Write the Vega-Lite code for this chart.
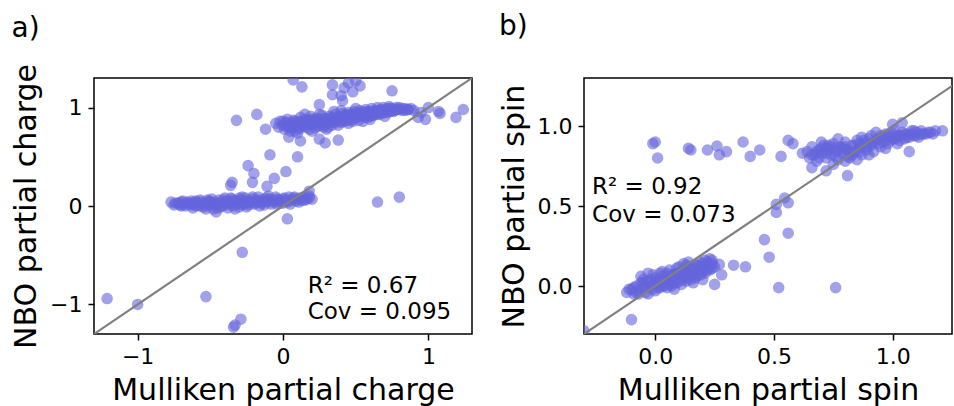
{
  "$schema": "https://vega.github.io/schema/vega-lite/v6.json",
  "padding": {"left": 10, "top": 12, "right": 1, "bottom": 0},
  "bounds": "flush",
  "spacing": 112,
  "config": {
    "font": "DejaVu Sans",
    "view": {"stroke": "black", "strokeWidth": 1.5},
    "axis": {"grid": false, "domain": false, "ticks": true, "tickColor": "black", "tickWidth": 1.5, "tickSize": 6, "labelFontSize": 22, "labelColor": "black", "labelPadding": 6, "titleFontSize": 30, "titleFontWeight": "normal", "titleColor": "black", "titlePadding": 8},
    "title": {"fontSize": 28, "fontWeight": "normal", "anchor": "start", "frame": "bounds", "color": "black"}
  },
  "datasets": {
    "charge": [
      {"m": -0.75, "n": 0.01}, {"m": -0.72, "n": 0.03}, {"m": -0.7, "n": 0.0}, {"m": -0.68, "n": 0.02}, {"m": -0.66, "n": 0.04}, {"m": -0.64, "n": 0.01}, {"m": -0.62, "n": 0.03}, {"m": -0.6, "n": 0.0}, {"m": -0.6, "n": 0.05}, {"m": -0.58, "n": 0.02}, {"m": -0.56, "n": 0.04}, {"m": -0.55, "n": -0.01}, {"m": -0.53, "n": 0.03}, {"m": -0.51, "n": 0.05}, {"m": -0.5, "n": 0.01}, {"m": -0.48, "n": -0.03}, {"m": -0.47, "n": 0.04}, {"m": -0.45, "n": 0.02}, {"m": -0.44, "n": 0.06}, {"m": -0.42, "n": 0.0}, {"m": -0.41, "n": 0.03}, {"m": -0.39, "n": 0.05}, {"m": -0.38, "n": -0.02}, {"m": -0.36, "n": 0.04}, {"m": -0.35, "n": 0.07}, {"m": -0.33, "n": 0.02}, {"m": -0.32, "n": 0.05}, {"m": -0.3, "n": -0.01}, {"m": -0.29, "n": 0.06}, {"m": -0.27, "n": 0.03}, {"m": -0.26, "n": 0.08}, {"m": -0.24, "n": 0.01}, {"m": -0.23, "n": 0.05}, {"m": -0.21, "n": 0.07}, {"m": -0.2, "n": 0.02}, {"m": -0.18, "n": 0.05}, {"m": -0.17, "n": 0.09}, {"m": -0.15, "n": 0.03}, {"m": -0.14, "n": 0.06}, {"m": -0.12, "n": 0.08}, {"m": -0.11, "n": 0.04}, {"m": -0.09, "n": 0.07}, {"m": -0.08, "n": 0.02}, {"m": -0.06, "n": 0.05}, {"m": -0.05, "n": 0.09}, {"m": -0.03, "n": 0.06}, {"m": -0.02, "n": 0.03}, {"m": 0.0, "n": 0.07}, {"m": 0.02, "n": 0.05}, {"m": 0.04, "n": 0.09}, {"m": 0.05, "n": 0.02}, {"m": 0.07, "n": 0.08}, {"m": 0.09, "n": 0.05}, {"m": 0.12, "n": 0.08}, {"m": 0.15, "n": 0.06}, {"m": 0.18, "n": 0.1}, {"m": 0.2, "n": 0.07}, {"m": -0.46, "n": -0.06}, {"m": -0.62, "n": -0.02}, {"m": -0.4, "n": 0.08}, {"m": -0.28, "n": 0.09}, {"m": -0.52, "n": 0.06}, {"m": -0.34, "n": 0.0}, {"m": -0.16, "n": 0.0}, {"m": -0.7, "n": 0.04}, {"m": -0.57, "n": 0.0},
      {"m": -0.74, "n": 0.03}, {"m": -0.71, "n": 0.01}, {"m": -0.69, "n": 0.05}, {"m": -0.67, "n": 0.0}, {"m": -0.65, "n": 0.03}, {"m": -0.63, "n": 0.05}, {"m": -0.61, "n": 0.01}, {"m": -0.59, "n": 0.04}, {"m": -0.57, "n": 0.06}, {"m": -0.54, "n": 0.02}, {"m": -0.52, "n": 0.0}, {"m": -0.5, "n": 0.04}, {"m": -0.49, "n": 0.07}, {"m": -0.46, "n": 0.01}, {"m": -0.44, "n": 0.03}, {"m": -0.43, "n": -0.01}, {"m": -0.41, "n": 0.06}, {"m": -0.39, "n": 0.01}, {"m": -0.37, "n": 0.03}, {"m": -0.36, "n": 0.08}, {"m": -0.34, "n": 0.05}, {"m": -0.31, "n": 0.03}, {"m": -0.3, "n": 0.08}, {"m": -0.28, "n": 0.01}, {"m": -0.26, "n": 0.05}, {"m": -0.25, "n": 0.03}, {"m": -0.22, "n": 0.04}, {"m": -0.21, "n": 0.09}, {"m": -0.19, "n": 0.03}, {"m": -0.17, "n": 0.06}, {"m": -0.16, "n": 0.04}, {"m": -0.13, "n": 0.05}, {"m": -0.1, "n": 0.06}, {"m": -0.1, "n": 0.1}, {"m": -0.07, "n": 0.04}, {"m": -0.04, "n": 0.07}, {"m": -0.01, "n": 0.05}, {"m": 0.01, "n": 0.08}, {"m": 0.03, "n": 0.04}, {"m": 0.06, "n": 0.06}, {"m": 0.08, "n": 0.09}, {"m": 0.1, "n": 0.07}, {"m": 0.11, "n": 0.04}, {"m": 0.14, "n": 0.09}, {"m": 0.16, "n": 0.07}, {"m": -0.53, "n": -0.03}, {"m": -0.45, "n": -0.02}, {"m": -0.33, "n": -0.03}, {"m": -0.25, "n": -0.01}, {"m": -0.13, "n": 0.01}, {"m": -0.04, "n": 0.02}, {"m": 0.0, "n": 0.03},
      {"m": -0.05, "n": 0.84}, {"m": -0.03, "n": 0.8}, {"m": -0.02, "n": 0.86}, {"m": 0.0, "n": 0.82}, {"m": 0.01, "n": 0.78}, {"m": 0.02, "n": 0.85}, {"m": 0.03, "n": 0.88}, {"m": 0.04, "n": 0.81}, {"m": 0.05, "n": 0.76}, {"m": 0.06, "n": 0.84}, {"m": 0.07, "n": 0.87}, {"m": 0.08, "n": 0.8}, {"m": 0.09, "n": 0.83}, {"m": 0.1, "n": 0.86}, {"m": 0.11, "n": 0.78}, {"m": 0.12, "n": 0.9}, {"m": 0.13, "n": 0.82}, {"m": 0.14, "n": 0.85}, {"m": 0.15, "n": 0.88}, {"m": 0.16, "n": 0.8}, {"m": 0.17, "n": 0.84}, {"m": 0.18, "n": 0.87}, {"m": 0.19, "n": 0.91}, {"m": 0.2, "n": 0.83}, {"m": 0.21, "n": 0.86}, {"m": 0.22, "n": 0.79}, {"m": 0.23, "n": 0.89}, {"m": 0.24, "n": 0.85}, {"m": 0.25, "n": 0.88}, {"m": 0.26, "n": 0.82}, {"m": 0.27, "n": 0.92}, {"m": 0.28, "n": 0.86}, {"m": 0.29, "n": 0.89}, {"m": 0.3, "n": 0.84}, {"m": 0.31, "n": 0.8}, {"m": 0.32, "n": 0.91}, {"m": 0.33, "n": 0.87}, {"m": 0.34, "n": 0.9}, {"m": 0.35, "n": 0.85}, {"m": 0.36, "n": 0.93}, {"m": 0.37, "n": 0.88}, {"m": 0.38, "n": 0.82}, {"m": 0.39, "n": 0.91}, {"m": 0.4, "n": 0.89}, {"m": 0.41, "n": 0.94}, {"m": 0.42, "n": 0.86}, {"m": 0.43, "n": 0.92}, {"m": 0.44, "n": 0.9}, {"m": 0.45, "n": 0.95}, {"m": 0.46, "n": 0.88}, {"m": 0.47, "n": 0.93}, {"m": 0.48, "n": 0.91}, {"m": 0.49, "n": 0.96}, {"m": 0.5, "n": 0.9}, {"m": 0.51, "n": 0.94}, {"m": 0.52, "n": 0.87}, {"m": 0.53, "n": 0.97}, {"m": 0.54, "n": 0.92}, {"m": 0.55, "n": 0.95}, {"m": 0.56, "n": 0.9}, {"m": 0.57, "n": 0.98}, {"m": 0.58, "n": 0.93}, {"m": 0.59, "n": 0.96}, {"m": 0.6, "n": 0.94}, {"m": 0.61, "n": 0.99}, {"m": 0.62, "n": 0.92}, {"m": 0.63, "n": 0.97}, {"m": 0.64, "n": 0.95}, {"m": 0.65, "n": 1.0}, {"m": 0.66, "n": 0.93}, {"m": 0.67, "n": 0.98}, {"m": 0.68, "n": 0.96}, {"m": 0.69, "n": 1.0}, {"m": 0.7, "n": 0.95}, {"m": 0.71, "n": 0.98}, {"m": 0.72, "n": 0.97}, {"m": 0.73, "n": 1.01}, {"m": 0.74, "n": 0.96}, {"m": 0.75, "n": 0.99}, {"m": 0.77, "n": 0.97}, {"m": 0.78, "n": 1.0}, {"m": 0.8, "n": 0.98}, {"m": 0.82, "n": 0.99}, {"m": 0.84, "n": 0.97}, {"m": 0.86, "n": 0.98}, {"m": 0.3, "n": 0.78}, {"m": 0.45, "n": 0.84}, {"m": 0.55, "n": 0.86}, {"m": 0.2, "n": 0.76}, {"m": 0.6, "n": 0.88}, {"m": 0.7, "n": 0.91}, {"m": 0.1, "n": 0.74}, {"m": 0.25, "n": 0.93}, {"m": 0.15, "n": 0.93}, {"m": 0.35, "n": 0.96}, {"m": 0.5, "n": 0.99}, {"m": 0.4, "n": 0.97},
      {"m": 0.0, "n": 0.86}, {"m": 0.02, "n": 0.81}, {"m": 0.04, "n": 0.84}, {"m": 0.06, "n": 0.8}, {"m": 0.08, "n": 0.86}, {"m": 0.1, "n": 0.82}, {"m": 0.12, "n": 0.85}, {"m": 0.14, "n": 0.81}, {"m": 0.16, "n": 0.87}, {"m": 0.18, "n": 0.83}, {"m": 0.2, "n": 0.88}, {"m": 0.22, "n": 0.84}, {"m": 0.24, "n": 0.81}, {"m": 0.26, "n": 0.87}, {"m": 0.28, "n": 0.83}, {"m": 0.3, "n": 0.88}, {"m": 0.32, "n": 0.85}, {"m": 0.34, "n": 0.82}, {"m": 0.36, "n": 0.88}, {"m": 0.38, "n": 0.9}, {"m": 0.4, "n": 0.85}, {"m": 0.42, "n": 0.91}, {"m": 0.44, "n": 0.87}, {"m": 0.46, "n": 0.93}, {"m": 0.48, "n": 0.88}, {"m": 0.5, "n": 0.94}, {"m": 0.52, "n": 0.91}, {"m": 0.54, "n": 0.95}, {"m": 0.56, "n": 0.93}, {"m": 0.58, "n": 0.96}, {"m": 0.6, "n": 0.91}, {"m": 0.62, "n": 0.96}, {"m": 0.64, "n": 0.93}, {"m": 0.66, "n": 0.97}, {"m": 0.68, "n": 0.94}, {"m": 0.7, "n": 0.98}, {"m": 0.72, "n": 0.95}, {"m": 0.74, "n": 0.99}, {"m": 0.76, "n": 0.96}, {"m": 0.78, "n": 0.98}, {"m": 0.8, "n": 1.0}, {"m": 0.82, "n": 0.97}, {"m": 0.84, "n": 0.99}, {"m": 0.88, "n": 0.99}, {"m": 0.9, "n": 0.97}, {"m": 0.12, "n": 0.8}, {"m": 0.22, "n": 0.87}, {"m": 0.32, "n": 0.88}, {"m": 0.42, "n": 0.89}, {"m": 0.52, "n": 0.93}, {"m": 0.62, "n": 0.95}, {"m": 0.72, "n": 0.99}, {"m": 0.05, "n": 0.8}, {"m": 0.15, "n": 0.83}, {"m": 0.25, "n": 0.85}, {"m": 0.35, "n": 0.87}, {"m": 0.45, "n": 0.91}, {"m": 0.55, "n": 0.92}, {"m": 0.65, "n": 0.96}, {"m": 0.75, "n": 0.97}, {"m": 0.08, "n": 0.76}, {"m": 0.18, "n": 0.78}, {"m": 0.28, "n": 0.8}, {"m": 0.38, "n": 0.86}, {"m": 0.48, "n": 0.86}, {"m": 0.58, "n": 0.9},
      {"m": 0.07, "n": 1.28}, {"m": 0.13, "n": 1.21}, {"m": 0.34, "n": 1.23}, {"m": 0.34, "n": 1.13}, {"m": 0.42, "n": 1.2}, {"m": 0.45, "n": 1.25}, {"m": 0.5, "n": 1.27}, {"m": 0.53, "n": 1.22}, {"m": 0.48, "n": 1.16}, {"m": 0.4, "n": 1.12}, {"m": 0.75, "n": 1.17}, {"m": 0.41, "n": 1.07}, {"m": 0.25, "n": 1.03}, {"m": -0.18, "n": 0.93}, {"m": -0.32, "n": 0.87}, {"m": -0.12, "n": 0.78}, {"m": 0.04, "n": 0.7}, {"m": 0.12, "n": 0.66}, {"m": 0.25, "n": 0.68}, {"m": 0.29, "n": 0.64}, {"m": 0.38, "n": 0.67}, {"m": -0.09, "n": 0.52}, {"m": 0.1, "n": 0.5}, {"m": -0.24, "n": 0.41}, {"m": -0.2, "n": 0.33}, {"m": 0.02, "n": 0.35}, {"m": -0.06, "n": 0.28}, {"m": -0.35, "n": 0.24}, {"m": -0.36, "n": 0.21}, {"m": -0.21, "n": 0.24}, {"m": -0.11, "n": 0.2}, {"m": 0.18, "n": 0.15}, {"m": -0.77, "n": 0.04}, {"m": 0.03, "n": -0.13}, {"m": 0.18, "n": 0.08}, {"m": 0.13, "n": 0.06}, {"m": 0.65, "n": 0.04}, {"m": 0.8, "n": 0.09}, {"m": -0.28, "n": -0.47}, {"m": -0.53, "n": -0.92}, {"m": -1.21, "n": -0.94}, {"m": -1.0, "n": -1.0}, {"m": -0.29, "n": -1.15}, {"m": -0.34, "n": -1.23}, {"m": -0.33, "n": -1.21}, {"m": 1.24, "n": 0.98}, {"m": 1.19, "n": 0.9}, {"m": 1.07, "n": 0.96}, {"m": 0.98, "n": 0.88}, {"m": 1.0, "n": 1.0}, {"m": 0.93, "n": 0.9}, {"m": 0.86, "n": 0.98}, {"m": 1.08, "n": 0.94}, {"m": 0.95, "n": 0.95}
    ],
    "spin": [
      {"m": -0.12, "n": -0.04}, {"m": -0.1, "n": -0.02}, {"m": -0.09, "n": -0.05}, {"m": -0.08, "n": 0.0}, {"m": -0.07, "n": -0.03}, {"m": -0.06, "n": 0.02}, {"m": -0.05, "n": -0.01}, {"m": -0.04, "n": -0.04}, {"m": -0.03, "n": 0.03}, {"m": -0.02, "n": 0.0}, {"m": -0.01, "n": -0.02}, {"m": 0.0, "n": 0.02}, {"m": 0.0, "n": 0.05}, {"m": 0.01, "n": -0.01}, {"m": 0.02, "n": 0.03}, {"m": 0.03, "n": 0.0}, {"m": 0.03, "n": 0.06}, {"m": 0.04, "n": 0.02}, {"m": 0.05, "n": -0.01}, {"m": 0.05, "n": 0.05}, {"m": 0.06, "n": 0.03}, {"m": 0.07, "n": 0.07}, {"m": 0.07, "n": 0.0}, {"m": 0.08, "n": 0.04}, {"m": 0.09, "n": 0.02}, {"m": 0.09, "n": 0.08}, {"m": 0.1, "n": 0.05}, {"m": 0.11, "n": 0.01}, {"m": 0.11, "n": 0.09}, {"m": 0.12, "n": 0.06}, {"m": 0.13, "n": 0.03}, {"m": 0.13, "n": 0.1}, {"m": 0.14, "n": 0.07}, {"m": 0.15, "n": 0.04}, {"m": 0.15, "n": 0.12}, {"m": 0.16, "n": 0.08}, {"m": 0.17, "n": 0.05}, {"m": 0.17, "n": 0.13}, {"m": 0.18, "n": 0.1}, {"m": 0.19, "n": 0.07}, {"m": 0.19, "n": 0.15}, {"m": 0.2, "n": 0.11}, {"m": 0.21, "n": 0.08}, {"m": 0.21, "n": 0.16}, {"m": 0.22, "n": 0.13}, {"m": 0.23, "n": 0.1}, {"m": 0.23, "n": 0.17}, {"m": 0.24, "n": 0.14}, {"m": 0.25, "n": 0.12}, {"m": -0.06, "n": 0.06}, {"m": 0.02, "n": 0.08}, {"m": -0.03, "n": -0.05}, {"m": 0.08, "n": -0.02}, {"m": 0.16, "n": 0.02}, {"m": 0.1, "n": 0.12}, {"m": 0.2, "n": 0.04}, {"m": 0.12, "n": 0.14}, {"m": -0.01, "n": 0.07}, {"m": 0.06, "n": 0.1}, {"m": 0.14, "n": 0.15},
      {"m": -0.11, "n": -0.02}, {"m": -0.09, "n": -0.01}, {"m": -0.07, "n": -0.05}, {"m": -0.05, "n": 0.02}, {"m": -0.04, "n": -0.01}, {"m": -0.02, "n": 0.04}, {"m": -0.01, "n": 0.01}, {"m": 0.01, "n": 0.03}, {"m": 0.02, "n": -0.01}, {"m": 0.04, "n": 0.05}, {"m": 0.04, "n": 0.0}, {"m": 0.06, "n": 0.06}, {"m": 0.06, "n": 0.01}, {"m": 0.08, "n": 0.07}, {"m": 0.08, "n": 0.02}, {"m": 0.1, "n": 0.08}, {"m": 0.1, "n": 0.03}, {"m": 0.12, "n": 0.09}, {"m": 0.12, "n": 0.04}, {"m": 0.14, "n": 0.11}, {"m": 0.14, "n": 0.05}, {"m": 0.16, "n": 0.11}, {"m": 0.16, "n": 0.06}, {"m": 0.18, "n": 0.13}, {"m": 0.18, "n": 0.07}, {"m": 0.2, "n": 0.14}, {"m": 0.2, "n": 0.09}, {"m": 0.22, "n": 0.15}, {"m": 0.22, "n": 0.1}, {"m": 0.24, "n": 0.16}, {"m": 0.24, "n": 0.11}, {"m": 0.0, "n": -0.03}, {"m": -0.08, "n": -0.04}, {"m": 0.05, "n": 0.08}, {"m": 0.13, "n": 0.13}, {"m": 0.19, "n": 0.11}, {"m": 0.23, "n": 0.13}, {"m": -0.05, "n": 0.04}, {"m": 0.03, "n": 0.09}, {"m": 0.09, "n": 0.11},
      {"m": 0.64, "n": 0.84}, {"m": 0.65, "n": 0.8}, {"m": 0.66, "n": 0.87}, {"m": 0.67, "n": 0.82}, {"m": 0.68, "n": 0.78}, {"m": 0.69, "n": 0.85}, {"m": 0.7, "n": 0.83}, {"m": 0.71, "n": 0.88}, {"m": 0.72, "n": 0.8}, {"m": 0.73, "n": 0.85}, {"m": 0.74, "n": 0.82}, {"m": 0.75, "n": 0.89}, {"m": 0.76, "n": 0.84}, {"m": 0.77, "n": 0.79}, {"m": 0.78, "n": 0.87}, {"m": 0.79, "n": 0.83}, {"m": 0.8, "n": 0.9}, {"m": 0.81, "n": 0.85}, {"m": 0.82, "n": 0.8}, {"m": 0.83, "n": 0.88}, {"m": 0.84, "n": 0.84}, {"m": 0.85, "n": 0.91}, {"m": 0.86, "n": 0.86}, {"m": 0.87, "n": 0.82}, {"m": 0.88, "n": 0.89}, {"m": 0.89, "n": 0.87}, {"m": 0.9, "n": 0.92}, {"m": 0.91, "n": 0.88}, {"m": 0.92, "n": 0.84}, {"m": 0.93, "n": 0.91}, {"m": 0.94, "n": 0.89}, {"m": 0.95, "n": 0.94}, {"m": 0.96, "n": 0.9}, {"m": 0.97, "n": 0.86}, {"m": 0.98, "n": 0.93}, {"m": 0.99, "n": 0.91}, {"m": 1.0, "n": 0.95}, {"m": 1.01, "n": 0.92}, {"m": 1.02, "n": 0.89}, {"m": 1.03, "n": 0.94}, {"m": 1.04, "n": 0.96}, {"m": 1.05, "n": 0.92}, {"m": 1.06, "n": 0.95}, {"m": 1.07, "n": 0.93}, {"m": 1.08, "n": 0.97}, {"m": 1.09, "n": 0.94}, {"m": 1.1, "n": 0.96}, {"m": 1.11, "n": 0.93}, {"m": 1.12, "n": 0.97}, {"m": 1.14, "n": 0.95}, {"m": 1.16, "n": 0.96}, {"m": 1.18, "n": 0.97}, {"m": 1.21, "n": 0.97}, {"m": 1.0, "n": 1.01}, {"m": 1.04, "n": 1.02}, {"m": 1.07, "n": 0.84}, {"m": 1.13, "n": 0.95}, {"m": 0.75, "n": 0.76}, {"m": 0.8, "n": 0.78}, {"m": 0.85, "n": 0.79}, {"m": 0.7, "n": 0.9}, {"m": 0.9, "n": 0.82}, {"m": 0.95, "n": 0.87}, {"m": 0.77, "n": 0.92}, {"m": 0.72, "n": 0.86}, {"m": 0.87, "n": 0.93}, {"m": 0.93, "n": 0.96},
      {"m": 0.66, "n": 0.82}, {"m": 0.68, "n": 0.84}, {"m": 0.7, "n": 0.86}, {"m": 0.72, "n": 0.83}, {"m": 0.74, "n": 0.87}, {"m": 0.76, "n": 0.81}, {"m": 0.78, "n": 0.85}, {"m": 0.8, "n": 0.87}, {"m": 0.82, "n": 0.84}, {"m": 0.84, "n": 0.88}, {"m": 0.86, "n": 0.84}, {"m": 0.88, "n": 0.91}, {"m": 0.9, "n": 0.88}, {"m": 0.92, "n": 0.9}, {"m": 0.94, "n": 0.92}, {"m": 0.96, "n": 0.93}, {"m": 0.98, "n": 0.89}, {"m": 1.0, "n": 0.92}, {"m": 1.02, "n": 0.94}, {"m": 1.03, "n": 0.91}, {"m": 1.05, "n": 0.95}, {"m": 1.06, "n": 0.93}, {"m": 1.08, "n": 0.95}, {"m": 1.1, "n": 0.94}, {"m": 1.12, "n": 0.95}, {"m": 1.15, "n": 0.96}, {"m": 1.17, "n": 0.95}, {"m": 0.69, "n": 0.8}, {"m": 0.73, "n": 0.88}, {"m": 0.79, "n": 0.86}, {"m": 0.83, "n": 0.82}, {"m": 0.89, "n": 0.85}, {"m": 0.91, "n": 0.94}, {"m": 0.97, "n": 0.95}, {"m": 1.01, "n": 0.97}, {"m": 0.86, "n": 0.89}, {"m": 0.81, "n": 0.81}, {"m": 0.76, "n": 0.86}, {"m": 0.99, "n": 0.94}, {"m": 1.09, "n": 0.97},
      {"m": 0.0, "n": 0.9}, {"m": -0.01, "n": 0.89}, {"m": 0.01, "n": 0.8}, {"m": 0.14, "n": 0.86}, {"m": 0.15, "n": 0.85}, {"m": 0.22, "n": 0.85}, {"m": 0.26, "n": 0.875}, {"m": 0.3, "n": 0.84}, {"m": 0.27, "n": 0.82}, {"m": 0.37, "n": 0.9}, {"m": 0.4, "n": 0.81}, {"m": 0.44, "n": 0.85}, {"m": 0.53, "n": 0.81}, {"m": 0.56, "n": 0.91}, {"m": 0.58, "n": 0.89}, {"m": 0.62, "n": 0.83}, {"m": 0.66, "n": 0.74}, {"m": 0.72, "n": 0.72}, {"m": 0.81, "n": 0.69}, {"m": 0.51, "n": 0.51}, {"m": 0.51, "n": 0.46}, {"m": 0.545, "n": 0.55}, {"m": 0.56, "n": 0.52}, {"m": 0.46, "n": 0.29}, {"m": 0.56, "n": 0.33}, {"m": 0.48, "n": 0.18}, {"m": 0.52, "n": -0.01}, {"m": 0.76, "n": -0.01}, {"m": 0.33, "n": 0.13}, {"m": 0.38, "n": 0.12}, {"m": 0.27, "n": 0.135}, {"m": 0.28, "n": 0.07}, {"m": 0.25, "n": 0.01}, {"m": -0.1, "n": -0.21}, {"m": -0.3, "n": -0.28}, {"m": -0.03, "n": 0.08}
    ]
  },
  "hconcat": [
    {
      "width": 378,
      "height": 256,
      "title": {"text": "a)", "offset": 21},
      "layer": [
        {
          "data": {"name": "charge"},
          "mark": {"type": "circle", "size": 135, "color": "#6464dc", "opacity": 0.6, "clip": true},
          "encoding": {
            "x": {"field": "m", "type": "quantitative", "scale": {"domain": [-1.3, 1.3], "nice": false, "zero": false}, "axis": {"values": [-1, 0, 1], "format": "d", "title": "Mulliken partial charge"}},
            "y": {"field": "n", "type": "quantitative", "scale": {"domain": [-1.3, 1.3], "nice": false, "zero": false}, "axis": {"values": [-1, 0, 1], "format": "d", "title": "NBO partial charge"}}
          }
        },
        {
          "data": {"values": [{}]},
          "mark": {"type": "rule", "color": "#808080", "strokeWidth": 2.2, "clip": true},
          "encoding": {
            "x": {"datum": -1.3, "type": "quantitative"},
            "x2": {"datum": 1.3},
            "y": {"datum": -1.3, "type": "quantitative"},
            "y2": {"datum": 1.3}
          }
        },
        {
          "data": {"values": [{}]},
          "mark": {"type": "text", "align": "left", "baseline": "alphabetic", "fontSize": 23, "lineHeight": 26, "color": "black"},
          "encoding": {
            "x": {"datum": 0.17, "type": "quantitative"},
            "y": {"datum": -0.88, "type": "quantitative"},
            "text": {"value": ["R² = 0.67", "Cov = 0.095"]}
          }
        }
      ]
    },
    {
      "width": 368,
      "height": 256,
      "title": {"text": "b)", "offset": 37},
      "layer": [
        {
          "data": {"name": "spin"},
          "mark": {"type": "circle", "size": 135, "color": "#6464dc", "opacity": 0.6, "clip": true},
          "encoding": {
            "x": {"field": "m", "type": "quantitative", "scale": {"domain": [-0.3, 1.25], "nice": false, "zero": false}, "axis": {"values": [0, 0.5, 1], "format": ".1f", "title": "Mulliken partial spin"}},
            "y": {"field": "n", "type": "quantitative", "scale": {"domain": [-0.3, 1.3], "nice": false, "zero": false}, "axis": {"values": [0, 0.5, 1], "format": ".1f", "title": "NBO partial spin"}}
          }
        },
        {
          "data": {"values": [{}]},
          "mark": {"type": "rule", "color": "#808080", "strokeWidth": 2.2, "clip": true},
          "encoding": {
            "x": {"datum": -0.3, "type": "quantitative"},
            "x2": {"datum": 1.3},
            "y": {"datum": -0.3, "type": "quantitative"},
            "y2": {"datum": 1.3}
          }
        },
        {
          "data": {"values": [{}]},
          "mark": {"type": "text", "align": "left", "baseline": "alphabetic", "fontSize": 23, "lineHeight": 28, "color": "black"},
          "encoding": {
            "x": {"datum": -0.266, "type": "quantitative"},
            "y": {"datum": 0.575, "type": "quantitative"},
            "text": {"value": ["R² = 0.92", "Cov = 0.073"]}
          }
        }
      ]
    }
  ]
}
